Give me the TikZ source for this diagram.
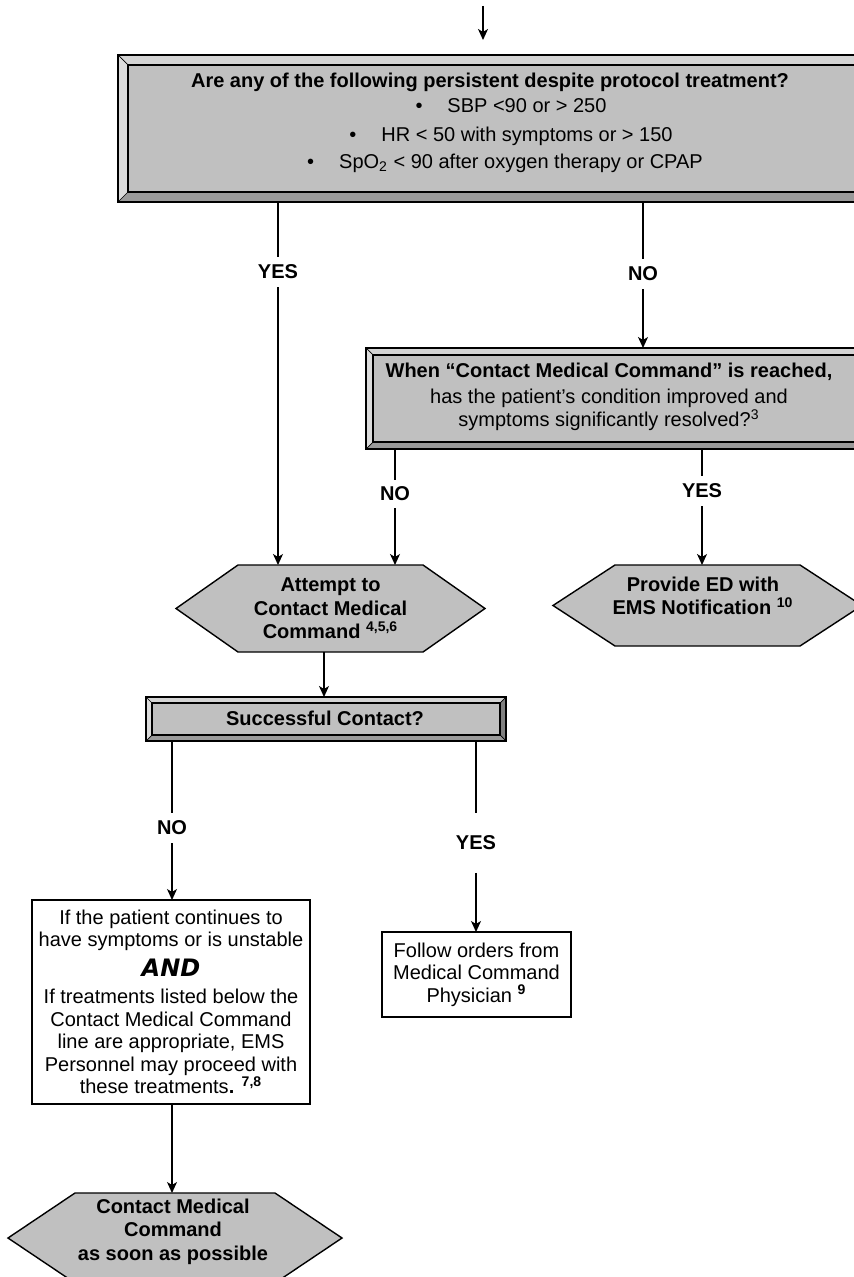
\documentclass[tikz,border=0pt]{standalone}
\usepackage{fontspec}
\setmainfont{Liberation Sans}
\newfontfamily\andfont{DejaVu Sans}
\usetikzlibrary{arrows.meta,backgrounds,calc}
\definecolor{facegray}{HTML}{C0C0C0}
\definecolor{bvtopc}{HTML}{D4D4D4}
\definecolor{bvleftc}{HTML}{DCDCDC}
\definecolor{bvbotc}{HTML}{9A9A9A}
\definecolor{bvrightc}{HTML}{808080}
\newcommand\bevelize[2]{%
  \fill[bvtopc] (#1.north west) -- (#1.north east) -- ([shift={(-#2,-#2)}]#1.north east) -- ([shift={(#2,-#2)}]#1.north west) -- cycle;
  \fill[bvrightc] (#1.north east) -- (#1.south east) -- ([shift={(-#2,#2)}]#1.south east) -- ([shift={(-#2,-#2)}]#1.north east) -- cycle;
  \fill[bvbotc] (#1.south east) -- (#1.south west) -- ([shift={(#2,#2)}]#1.south west) -- ([shift={(-#2,#2)}]#1.south east) -- cycle;
  \fill[bvleftc] (#1.south west) -- (#1.north west) -- ([shift={(#2,-#2)}]#1.north west) -- ([shift={(#2,#2)}]#1.south west) -- cycle;
  \draw[line width=0.35pt] (#1.north west) -- ([shift={(#2,-#2)}]#1.north west)
    (#1.north east) -- ([shift={(-#2,-#2)}]#1.north east)
    (#1.south west) -- ([shift={(#2,#2)}]#1.south west)
    (#1.south east) -- ([shift={(-#2,#2)}]#1.south east);
  \draw[line width=0.7pt] ([shift={(#2,-#2)}]#1.north west) rectangle ([shift={(-#2,#2)}]#1.south east);
  \draw[line width=1pt] (#1.north west) rectangle (#1.south east);
}
\newcommand\hexshape[2]{%
  \begin{scope}[on background layer]
    \filldraw[fill=facegray, draw=black, line width=0.7pt, line join=miter]
      (#1.north west) -- (#1.north east) -- ([shift={(#2,0)}]#1.east) -- (#1.south east)
      -- (#1.south west) -- ([shift={(-#2,0)}]#1.west) -- cycle;
  \end{scope}}
\tikzset{
  conn/.style={line width=0.7pt},
  arr/.style={conn, -{Stealth[length=5.5pt,width=5pt,inset=1.5pt]}},
  lbl/.style={font=\fontsize{10}{12}\selectfont\bfseries, inner xsep=1pt, inner ysep=4pt, outer sep=0pt},
  facebox/.style={fill=facegray, inner sep=0pt, outer sep=0pt},
  hexnode/.style={inner sep=0pt, outer sep=0pt, align=center, font=\fontsize{10}{11.75}\selectfont\bfseries},
  plainbox/.style={draw, line width=0.8pt, fill=white, inner sep=0pt, outer sep=0pt, align=center, font=\fontsize{10}{11.25}\selectfont},
  txt/.style={inner sep=0pt, align=center, font=\fontsize{10}{11.5}\selectfont},
  btxt/.style={inner sep=0pt, align=center, font=\fontsize{10}{11.75}\selectfont\bfseries},
}
\begin{document}
\begin{tikzpicture}[x=0.5pt,y=0.5pt]
\useasboundingbox (0,0) rectangle (853,-1277);
\begin{scope}[on background layer]
  \fill[white] (0,0) rectangle (853,-1277);
\end{scope}

% --- top question box
\node[facebox, minimum width=378.5pt, minimum height=73.5pt] (q1) at (496.5,-128.5) {};
\bevelize{q1}{10}
\node[btxt] (q1h) at (490,-82) {Are any of the following persistent despite protocol treatment?};
\node[txt] (q1a) at (511,-106) {\makebox[16pt][l]{\textbullet}SBP <90 or > 250};
\node[txt] (q1b) at (511,-136) {\makebox[16pt][l]{\textbullet}HR < 50 with symptoms or > 150};
\node[txt] (q1c) at (505,-163) {\makebox[16pt][l]{\textbullet}SpO\textsubscript{2} < 90 after oxygen therapy or CPAP};

% --- second question box
\node[facebox, minimum width=257pt, minimum height=50.5pt] (q2) at (623,-398.5) {};
\bevelize{q2}{7}
\node[txt] (q2t) at (609,-397) {\textbf{When “Contact Medical Command” is reached,}\\[1.5pt]
  has the patient’s condition improved and\\
  symptoms significantly resolved?\textsuperscript{3}};

% --- hexagons
\node[hexnode, minimum width=92.5pt, minimum height=43.5pt] (h1) at (330.5,-608.5)
  {Attempt to\\Contact Medical\\Command \textsuperscript{4,5,6}};
\hexshape{h1}{62}
\node[hexnode, minimum width=92.5pt, minimum height=40.5pt] (h2) at (707.5,-605.5) {};
\hexshape{h2}{62}
\node[btxt] (h2t) at (703,-596) {Provide ED with\\EMS Notification \textsuperscript{10}};

% --- successful contact
\node[facebox, minimum width=180pt, minimum height=22pt] (q3) at (326,-719) {};
\bevelize{q3}{6}
\node[btxt] (q3t) at (325,-718) {Successful Contact?};

% --- white boxes
\node[plainbox, minimum width=139pt, minimum height=102pt] (b1) at (171,-1002)
  {If the patient continues to\\
   have symptoms or is unstable\\[3.5pt]
   {\andfont\fontsize{12}{11.25}\selectfont\bfseries\itshape AND}\\[2.5pt]
   If treatments listed below the\\
   Contact Medical Command\\
   line are appropriate, EMS\\
   Personnel may proceed with\\
   these treatments\textbf{.} \textsuperscript{\textbf{7,8}}};
\node[plainbox, minimum width=94.5pt, minimum height=42.5pt] (b2) at (476.5,-974.5)
  {Follow orders from\\Medical Command\\Physician \textsuperscript{\textbf{9}}};

% --- bottom hexagon
\node[hexnode, minimum width=100pt, minimum height=45pt] (h3) at (175,-1238) {};
\hexshape{h3}{67}
\node[btxt] (h3t) at (173,-1231.5) {Contact Medical\\Command\\as soon as possible};

% --- connectors
\coordinate (s0) at (483,-6);
\coordinate (s1) at (483,-40);
\draw[arr] (s0) -- (s1);

\node[lbl] (l1) at (278,-272) {YES};
\draw[conn] (q1.south -| l1) -- (l1);
\draw[arr] (l1) -- (h1.north -| l1);

\node[lbl] (l2) at (643,-274) {NO};
\draw[conn] (q1.south -| l2) -- (l2);
\draw[arr] (l2) -- (q2.north -| l2);

\node[lbl, inner ysep=3.5pt] (l3) at (395,-494) {NO};
\draw[conn] (q2.south -| l3) -- (l3);
\draw[arr] (l3) -- (h1.north -| l3);

\node[lbl] (l4) at (702,-491) {YES};
\draw[conn] (q2.south -| l4) -- (l4);
\draw[arr] (l4) -- (h2.north -| l4);

\draw[arr] (h1.south -| 324,0) -- (q3.north -| 324,0);

\node[lbl] (l5) at (172,-828) {NO};
\draw[conn] (q3.south -| l5) -- (l5);
\draw[arr] (l5) -- (b1.north -| l5);

\node[lbl, inner ysep=11.4pt] (l6) at (476,-843) {YES};
\draw[conn] (q3.south -| l6) -- (l6);
\draw[arr] (l6) -- (b2.north -| l6);

\draw[arr] (b1.south -| 172,0) -- (h3.north -| 172,0);
\end{tikzpicture}
\end{document}
